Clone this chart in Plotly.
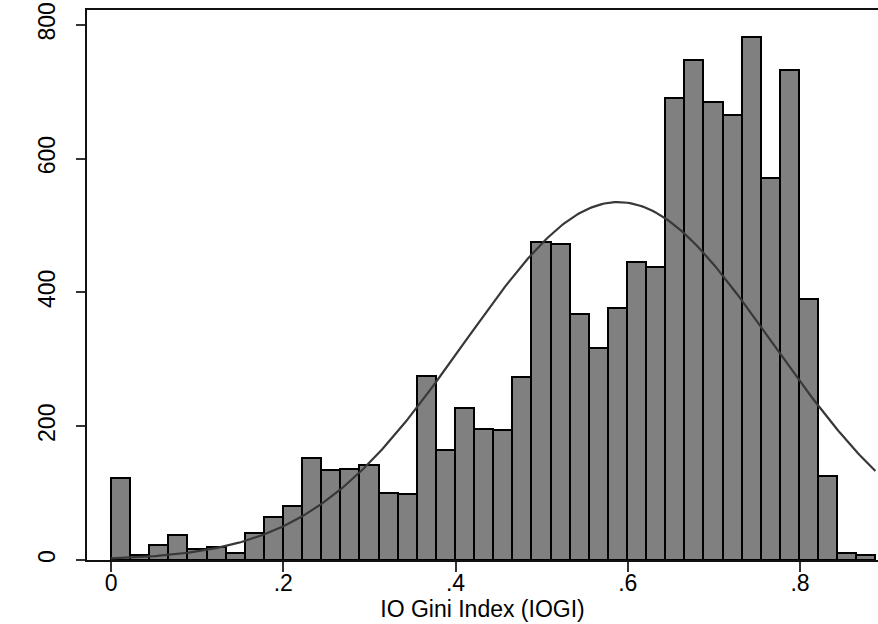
import numpy as np
import plotly.graph_objects as go

# Histogram of IO Gini Index (40 bins), counts
BIN_START = 0.0
BIN_WIDTH = 0.02219
counts = [123, 8, 22, 38, 16, 20, 10, 40, 64, 81,
          153, 134, 136, 142, 100, 99, 275, 164, 227, 196,
          194, 274, 476, 473, 367, 317, 377, 445, 438, 690,
          748, 685, 665, 782, 571, 733, 390, 125, 11, 7]

# Normal density overlay parameters
NORMAL_MEAN = 0.589
NORMAL_SD = 0.179

x_tickvals = [0, 0.2, 0.4, 0.6, 0.8]
x_ticktext = ["0", ".2", ".4", ".6", ".8"]
y_tickvals = [0, 200, 400, 600, 800]
y_ticktext = ["0", "200", "400", "600", "800"]
x_title = "IO Gini Index (IOGI)"

n_bins = len(counts)
centers = [BIN_START + (i + 0.5) * BIN_WIDTH for i in range(n_bins)]
x_min = BIN_START
x_max = BIN_START + n_bins * BIN_WIDTH
total = sum(counts)

xs = np.linspace(x_min, x_max, 300)
dens = total * BIN_WIDTH / (NORMAL_SD * np.sqrt(2 * np.pi)) * np.exp(-0.5 * ((xs - NORMAL_MEAN) / NORMAL_SD) ** 2)

fig = go.Figure()
fig.add_trace(go.Bar(
    x=centers, y=counts, width=BIN_WIDTH,
    marker=dict(color="#808080", line=dict(color="#000000", width=2)),
    hoverinfo="x+y",
))
fig.add_trace(go.Scatter(
    x=xs, y=dens, mode="lines",
    line=dict(color="#383838", width=2.2),
    hoverinfo="skip",
))

font_family = "Liberation Sans, Arial, sans-serif"
fig.update_layout(
    width=878, height=624,
    margin=dict(l=87, r=0, t=10, b=64),
    paper_bgcolor="white", plot_bgcolor="white",
    showlegend=False, bargap=0,
    font=dict(family=font_family, size=23, color="black"),
)
fig.update_xaxes(
    range=[-0.0279, 0.8906],
    tickvals=x_tickvals, ticktext=x_ticktext,
    ticks="outside", ticklen=10, tickwidth=1.5, tickcolor="#333333",
    showline=True, linecolor="#111111", linewidth=2, mirror=True,
    showgrid=False, zeroline=False,
    title=dict(text=x_title, standoff=3, font=dict(size=23)),
    tickfont=dict(size=23), ticklabelstandoff=-9,
)
fig.update_yaxes(
    range=[0, 822],
    tickvals=y_tickvals, ticktext=y_ticktext, tickangle=-90,
    ticks="outside", ticklen=9, tickwidth=1.5, tickcolor="#333333",
    showline=True, linecolor="#111111", linewidth=2, mirror=False,
    showgrid=False, zeroline=False,
    tickfont=dict(size=23), ticklabelstandoff=12,
)

fig.write_html(
    "out.html",
    config={"displayModeBar": False},
    post_script="document.body.style.margin='0';document.body.style.overflow='hidden';",
)
